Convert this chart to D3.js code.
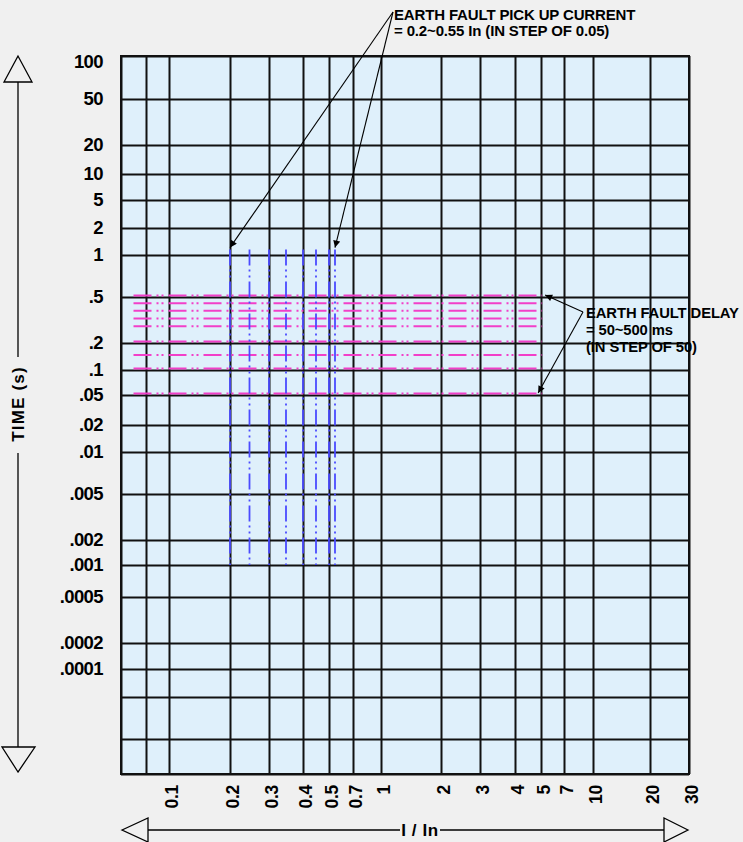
<!DOCTYPE html>
<html>
<head>
<meta charset="utf-8">
<script src="https://cdn.jsdelivr.net/npm/d3@7"></script>
<style>
  html, body { margin: 0; padding: 0; background: #f0f0f0; }
  svg { display: block; font-family: "Liberation Sans", Arial, sans-serif; }
  .lbl { font-weight: bold; fill: #000; }
</style>
</head>
<body>
<script>
// ---------- data ----------
// vertical grid values (current I/In); first two are unlabeled grid lines
const xGridValues = [0.03, 0.05, 0.1, 0.2, 0.3, 0.4, 0.5, 0.7, 1, 2, 3, 4, 5, 7, 10, 20, 30];
const xTickValues = [0.1, 0.2, 0.3, 0.4, 0.5, 0.7, 1, 2, 3, 4, 5, 7, 10, 20, 30];
const xTickLabels = ["0.1", "0.2", "0.3", "0.4", "0.5", "0.7", "1", "2", "3", "4", "5", "7", "10", "20", "30"];
// horizontal grid values (time s); last three are unlabeled grid lines
const yGridValues = [100, 50, 20, 10, 5, 2, 1, 0.5, 0.2, 0.1, 0.05, 0.02, 0.01, 0.005, 0.002, 0.001, 0.0005, 0.0002, 0.0001, 0.00005, 0.00002, 0.00001];
const yTickValues = [100, 50, 20, 10, 5, 2, 1, 0.5, 0.2, 0.1, 0.05, 0.02, 0.01, 0.005, 0.002, 0.001, 0.0005, 0.0002, 0.0001];
const yTickLabels = ["100", "50", "20", "10", "5", "2", "1", ".5", ".2", ".1", ".05", ".02", ".01", ".005", ".002", ".001", ".0005", ".0002", ".0001"];
// earth fault pick-up current settings (I/In) -> vertical dash-dot lines
const pickupCurrents = [0.2, 0.25, 0.3, 0.35, 0.4, 0.45, 0.5, 0.55];
const pickupTimeSpan = [0.001, 1.2];        // time extent of the pick-up lines
// earth fault delay settings (s) -> horizontal dash-dot lines
const delayTimes = [0.5, 0.45, 0.4, 0.35, 0.3, 0.2, 0.15, 0.1, 0.05];
const delayCurrentSpan = [0.04, 5.1];       // current extent of the delay lines

// ---------- layout ----------
const W = 743, H = 842;
const plot = { left: 121, right: 689, top: 56, bottom: 774 };
// breakpoints of the (non-uniform) chart grid, in px offset from the plot edge
const xStops = [0, 25, 48, 109, 148, 182, 208, 232, 260, 320, 359, 394, 420, 443, 472, 529, 568];
const yStops = [0, 43, 89, 118, 144, 172, 199, 241, 287, 314, 339, 369, 396, 438, 484, 509, 541, 587, 613, 641, 683, 718];

const x = d3.scaleLinear()
  .domain(xGridValues)
  .range(xStops.map(d => plot.left + d));
const yPairs = yGridValues.map((v, i) => [v, plot.top + yStops[i]]).sort((a, b) => a[0] - b[0]);
const y = d3.scaleLinear()
  .domain(yPairs.map(d => d[0]))
  .range(yPairs.map(d => d[1]));

const svg = d3.select("body").append("svg").attr("width", W).attr("height", H);

const defs = svg.append("defs");
defs.append("marker").attr("id", "ah").attr("viewBox", "0 0 10 10")
  .attr("refX", 10).attr("refY", 5).attr("markerWidth", 9).attr("markerHeight", 7)
  .attr("markerUnits", "userSpaceOnUse").attr("orient", "auto")
  .append("path").attr("d", "M0,0 L10,5 L0,10 z").attr("fill", "#000");

// plot background
svg.append("rect")
  .attr("x", plot.left).attr("y", plot.top)
  .attr("width", plot.right - plot.left).attr("height", plot.bottom - plot.top)
  .attr("fill", "#dff0fb");

// grid via axes
const gx = svg.append("g").attr("transform", `translate(0,${plot.bottom})`)
  .call(d3.axisBottom(x).tickValues(xGridValues).tickSize(-(plot.bottom - plot.top)).tickFormat(""));
gx.select(".domain").remove();
gx.selectAll("line").attr("stroke", "#111").attr("stroke-width", 2);

const gy = svg.append("g").attr("transform", `translate(${plot.left},0)`)
  .call(d3.axisLeft(y).tickValues(yGridValues).tickSize(-(plot.right - plot.left)).tickFormat(""));
gy.select(".domain").remove();
gy.selectAll("line").attr("stroke", "#111").attr("stroke-width", 2);

svg.append("rect")
  .attr("x", plot.left).attr("y", plot.top)
  .attr("width", plot.right - plot.left).attr("height", plot.bottom - plot.top)
  .attr("fill", "none").attr("stroke", "#111").attr("stroke-width", 2);

// delay lines (magenta)
svg.append("g").selectAll("line").data(delayTimes).join("line")
  .attr("x1", x(delayCurrentSpan[0])).attr("x2", x(delayCurrentSpan[1]))
  .attr("y1", d => y(d) - 1.5).attr("y2", d => y(d) - 1.5)
  .attr("stroke", "#f23fc9").attr("stroke-width", 2)
  .attr("stroke-dasharray", "18,5,2,3,2,5");

// pick-up lines (blue)
svg.append("g").selectAll("line").data(pickupCurrents).join("line")
  .attr("x1", d => x(d)).attr("x2", d => x(d))
  .attr("y1", y(pickupTimeSpan[1])).attr("y2", y(pickupTimeSpan[0]))
  .attr("stroke", "#4b4bff").attr("stroke-width", 1.8)
  .attr("stroke-dasharray", "16,4,2,4,2,4");

// y tick labels
const yAx = svg.append("g").attr("transform", "translate(103,0)")
  .call(d3.axisLeft(y).tickValues(yTickValues).tickSize(0).tickPadding(0)
    .tickFormat(d => yTickLabels[yTickValues.indexOf(d)]));
yAx.select(".domain").remove();
yAx.selectAll(".tick").attr("transform", d => `translate(0,${Math.max(y(d), plot.top + 6)})`);
yAx.selectAll("text").attr("class", "lbl").attr("font-size", 18.5).attr("font-family", null)
  .attr("x", 0).attr("text-anchor", "end").attr("letter-spacing", -0.6);

// x tick labels (rotated)
const xAx = svg.append("g").attr("transform", `translate(0,${plot.bottom})`)
  .call(d3.axisBottom(x).tickValues(xTickValues).tickSize(0).tickPadding(0)
    .tickFormat(d => xTickLabels[xTickValues.indexOf(d)]));
xAx.select(".domain").remove();
xAx.selectAll("text").attr("class", "lbl").attr("font-size", 17.5).attr("font-family", null)
  .attr("transform", "rotate(-90)").attr("text-anchor", "end")
  .attr("x", -11).attr("y", 2).attr("dy", "0.35em").attr("letter-spacing", -0.3);

// vertical axis arrow (TIME)
const ax = svg.append("g").attr("stroke", "#000").attr("stroke-width", 1.3).attr("fill", "none");
ax.append("line").attr("x1", 18).attr("x2", 18).attr("y1", 57).attr("y2", 357);
ax.append("line").attr("x1", 18).attr("x2", 18).attr("y1", 453).attr("y2", 772);
ax.append("path").attr("d", "M18,56 L4,82 L32,82 Z").attr("fill", "#f0f0f0");
ax.append("path").attr("d", "M18,772 L2,747 L35,747 Z").attr("fill", "#f0f0f0");
svg.append("text").attr("class", "lbl").attr("font-size", 17)
  .attr("transform", "translate(18,404) rotate(-90)")
  .attr("text-anchor", "middle").attr("dy", "0.35em").attr("letter-spacing", 1.2)
  .text("TIME (s)");

// horizontal axis arrow (I / In)
ax.append("line").attr("x1", 123).attr("x2", 400).attr("y1", 830).attr("y2", 830);
ax.append("line").attr("x1", 440).attr("x2", 687).attr("y1", 830).attr("y2", 830);
ax.append("path").attr("d", "M122,830 L148,818 L148,842 Z").attr("fill", "#f0f0f0");
ax.append("path").attr("d", "M688,830 L664,818 L664,842 Z").attr("fill", "#f0f0f0");
svg.append("text").attr("class", "lbl").attr("font-size", 17)
  .attr("x", 420).attr("y", 830).attr("dy", "0.35em")
  .attr("text-anchor", "middle").attr("letter-spacing", 0.6)
  .text("I / In");

// annotation: pick up current
const ann = svg.append("g");
[pickupCurrents[0], pickupCurrents[pickupCurrents.length - 1]].forEach(c => {
  ann.append("line").attr("x1", 393).attr("y1", 12)
    .attr("x2", x(c)).attr("y2", y(pickupTimeSpan[1]) - 2)
    .attr("stroke", "#000").attr("stroke-width", 1.1).attr("marker-end", "url(#ah)");
});
ann.append("text").attr("class", "lbl").attr("font-size", 15).attr("letter-spacing", -0.15)
  .attr("x", 394).attr("y", 20).text("EARTH FAULT PICK UP CURRENT");
ann.append("text").attr("class", "lbl").attr("font-size", 15).attr("letter-spacing", -0.15)
  .attr("x", 394).attr("y", 36).text("= 0.2~0.55 In (IN STEP OF 0.05)");

// annotation: delay
[delayTimes[0], delayTimes[delayTimes.length - 1]].forEach(t => {
  ann.append("line").attr("x1", 583).attr("y1", 312)
    .attr("x2", x(delayCurrentSpan[1]) - (t === delayTimes[0] ? -3 : 4)).attr("y2", y(t) - 2)
    .attr("stroke", "#000").attr("stroke-width", 1.1).attr("marker-end", "url(#ah)");
});
ann.append("text").attr("class", "lbl").attr("font-size", 14.8).attr("letter-spacing", -0.1)
  .attr("x", 586).attr("y", 318).text("EARTH FAULT DELAY");
ann.append("text").attr("class", "lbl").attr("font-size", 14.8).attr("letter-spacing", -0.1)
  .attr("x", 586).attr("y", 335).text("= 50~500 ms");
ann.append("text").attr("class", "lbl").attr("font-size", 14.8).attr("letter-spacing", -0.1)
  .attr("x", 586).attr("y", 352).text("(IN STEP OF 50)");
</script>
</body>
</html>
